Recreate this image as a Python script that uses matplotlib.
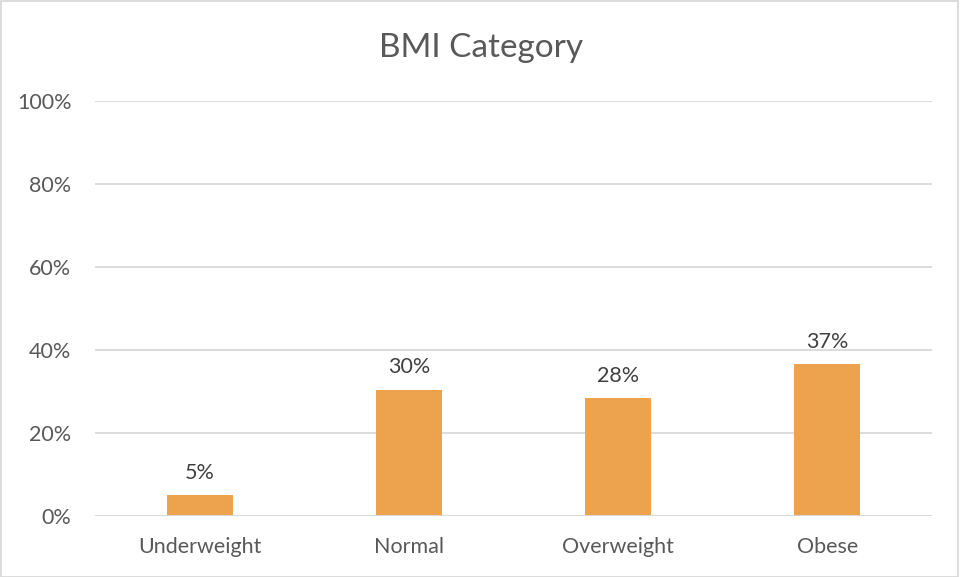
import numpy as np
import matplotlib.pyplot as plt
from matplotlib.patches import Rectangle

categories = ['Underweight', 'Normal', 'Overweight', 'Obese']
values = [0.05, 0.304, 0.284, 0.366]
labels = ['5%', '30%', '28%', '37%']
yticks = [0, 0.2, 0.4, 0.6, 0.8, 1.0]
ytick_labels = ['0%', '20%', '40%', '60%', '80%', '100%']

plt.rcParams['font.family'] = ['Lato', 'DejaVu Sans']

fig = plt.figure(figsize=(9.62, 5.77), dpi=100)
ax = fig.add_axes([95 / 962, 1 - 516 / 577, 837 / 962, 415 / 577])

x = np.arange(len(categories))
ax.bar(x, values, width=0.316, color='#EDA24E', zorder=3)
for xi, v, lab in zip(x, values, labels):
    ax.annotate(lab, (xi, v), xytext=(0, 9), textcoords='offset points',
                ha='center', va='bottom', fontsize=15.5, color='#404040')

ax.set_xlim(-0.5, 3.5)
ax.set_ylim(0, 1)
ax.set_yticks(yticks)
ax.set_yticklabels(ytick_labels)
ax.set_xticks(x)
ax.set_xticklabels(categories)
ax.tick_params(axis='both', length=0, labelsize=15.5, labelcolor='#595959')
ax.tick_params(axis='y', pad=17)
ax.tick_params(axis='x', pad=15)
ax.yaxis.grid(True, color='#D9D9D9', linewidth=1.3, zorder=0)
for s in ax.spines.values():
    s.set_visible(False)
ax.axhline(0, color='#D9D9D9', linewidth=1.3, zorder=4)

fig.text(0.5, 1 - 48 / 577, 'BMI Category', ha='center', va='center',
         fontsize=24, color='#595959')

fig.patches.append(Rectangle((1 / 962, 0), 957 / 962, 576 / 577, transform=fig.transFigure,
                             fill=False, edgecolor='#D9D9D9', linewidth=1.3))

fig.savefig('out.png', dpi=100)
